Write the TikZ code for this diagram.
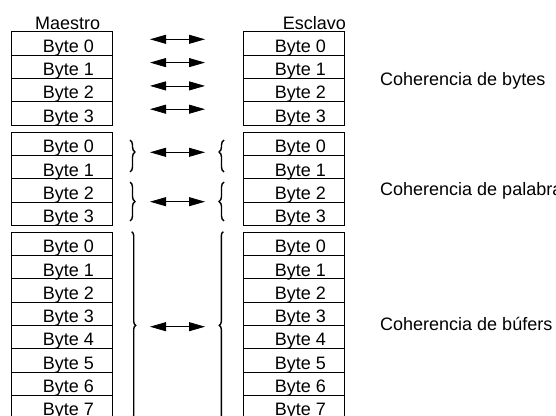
\documentclass[tikz,border=0pt]{standalone}
\usepackage{fontspec}
\setmainfont{Liberation Sans}
\usetikzlibrary{arrows.meta,decorations.pathreplacing}
\tikzset{
  cell/.style={draw, line width=0.8pt, minimum width=101pt, minimum height=23.3pt,
    inner sep=0pt, anchor=north west},
  bytelbl/.style={anchor=base, inner sep=0pt},
  link/.style={{Triangle[length=16pt,width=9pt]}-{Triangle[length=16pt,width=9pt]},
    line width=0.8pt},
  grp/.style={decorate, decoration={brace, amplitude=#1}, line width=1.4pt},
  grp/.default=5pt
}

\begin{document}
\begin{tikzpicture}[x=1pt, y=-1pt, font=\fontsize{18pt}{20pt}\selectfont]
  \useasboundingbox (0,0) rectangle (556,415);
  % Column titles
  \node[anchor=base west, inner sep=0pt] (mtitle) at (35,29.3) {Maestro};
  \node[anchor=base east, inner sep=0pt] (stitle) at (346,29.3) {Esclavo};
  % Byte rows, master and slave
  \foreach \g/\top/\n in {a/31.3/3, b/131.7/3, c/231.7/7} {
    \foreach \i in {0,...,\n} {
      \node[cell] (m\g\i) at (11,{\top+23.3*\i}) {};
      \node[bytelbl] (mt\g\i) at (68.5,{\top+23.3*\i+21}) {Byte \i};
      \node[cell] (s\g\i) at (243,{\top+23.3*\i}) {};
      \node[bytelbl] (st\g\i) at (300.3,{\top+23.3*\i+21}) {Byte \i};
    }
  }
  % Byte coherence
  \foreach \i in {0,...,3} {
    \coordinate (la\i) at (150,{39.3+23.3*\i});
    \coordinate (ra\i) at (205,{39.3+23.3*\i});
    \draw[link] (la\i) -- (ra\i);
  }
  % Word coherence
  \draw[grp, decoration={aspect=0.375}] (130,140) -- (130,172);
  \draw[grp, decoration={aspect=0.375, mirror}] (224,140) -- (224,172);
  \draw[grp] (130,182) -- (130,221);
  \draw[grp, decoration={mirror}] (224,182) -- (224,221);
  \coordinate (lb0) at (150,152.3);
  \coordinate (rb0) at (205,152.3);
  \coordinate (lb1) at (150,201.7);
  \coordinate (rb1) at (205,201.7);
  \draw[link] (lb0) -- (rb0);
  \draw[link] (lb1) -- (rb1);
  % Buffer coherence
  \draw[grp=4pt] (131.7,231.7) -- (131.7,419);
  \draw[grp=4pt, decoration={mirror}] (223.3,231.7) -- (223.3,419);
  \coordinate (lc0) at (150,326.7);
  \coordinate (rc0) at (205,326.7);
  \draw[link] (lc0) -- (rc0);
  % Labels on the right
  \node[anchor=base west, inner sep=0pt] (lbytes) at (380,85) {Coherencia de bytes};
  \node[anchor=base west, inner sep=0pt] (lwords) at (380,195) {Coherencia de palabras};
  \node[anchor=base west, inner sep=0pt] (lbufs) at (380,330) {Coherencia de búfers};
\end{tikzpicture}
\end{document}
